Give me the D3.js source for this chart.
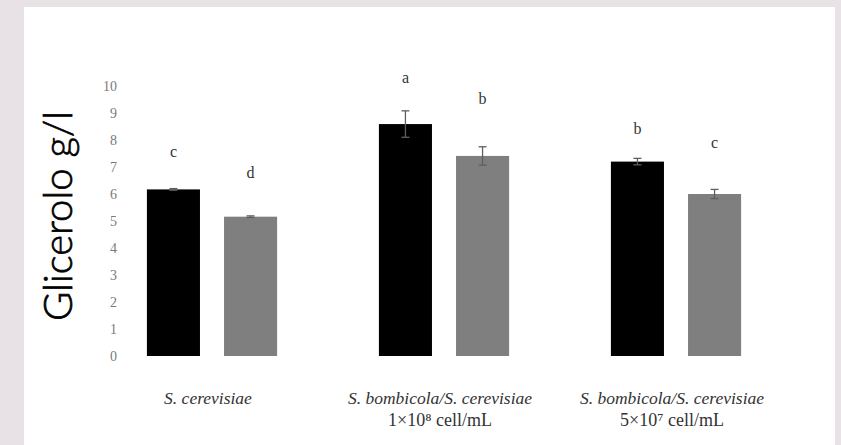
<!DOCTYPE html>
<html>
<head>
<meta charset="utf-8">
<script src="https://cdn.jsdelivr.net/npm/d3@7"></script>
<style>
  html, body { margin: 0; padding: 0; background: #e8e1e5; }
  svg { display: block; }
</style>
</head>
<body>
<svg id="chart" width="841" height="445"></svg>
<script>
// ---- data ----
const categories = ["g1", "g2", "g3"];
const categoryLine1 = ["S. cerevisiae", "S. bombicola/S. cerevisiae", "S. bombicola/S. cerevisiae"];
const categoryLine2 = ["", "1×10⁸ cell/mL", "5×10⁷ cell/mL"];
const seriesNames = ["black", "gray"];
const blackValues = [6.17, 8.59, 7.20];
const grayValues = [5.16, 7.41, 6.00];
const blackErrors = [0.03, 0.49, 0.12];
const grayErrors = [0.03, 0.34, 0.17];
const blackLetters = ["c", "a", "b"];
const grayLetters = ["d", "b", "c"];
const blackLetterY = [7.56, 10.33, 8.44];
const grayLetterY = [6.81, 9.52, 7.89];
const yTicks = [0, 1, 2, 3, 4, 5, 6, 7, 8, 9, 10];
const yTitle = "Glicerolo g/l";

const seriesColors = { black: "#000000", gray: "#7f7f7f" };

const svg = d3.select("#chart");

// white panel
svg.append("rect").attr("x", 24).attr("y", 7).attr("width", 811).attr("height", 445)
  .attr("fill", "#ffffff");

const y = d3.scaleLinear().domain([0, 10]).range([356, 86]);
const x0 = d3.scaleBand().domain(categories).range([96, 792]);
const x1 = d3.scaleBand().domain(seriesNames).range([0, x0.bandwidth()])
  .paddingInner(0.312).paddingOuter(0.66);

// y axis tick labels
const yAxis = d3.axisLeft(y).tickValues(yTicks).tickSize(0).tickPadding(0)
  .tickFormat(d3.format("d"));
const gy = svg.append("g").attr("transform", "translate(117,0)").call(yAxis);
gy.select(".domain").remove();
gy.selectAll("text")
  .attr("font-family", "'Liberation Serif', 'DejaVu Serif', serif")
  .attr("font-size", 14)
  .attr("fill", "#7a7a7a");

// y title
svg.append("text")
  .attr("transform", "translate(72,216) rotate(-90)")
  .attr("text-anchor", "middle")
  .attr("font-family", "Lato, 'Open Sans', sans-serif")
  .attr("font-weight", 300)
  .attr("font-size", 40)
  .attr("fill", "#000")
  .attr("stroke", "#000")
  .attr("stroke-width", 0.7)
  .text(yTitle);

// build rows
const rows = categories.map((c, i) => ({
  cat: c,
  items: [
    { s: "black", v: blackValues[i], e: blackErrors[i], l: blackLetters[i], ly: blackLetterY[i] },
    { s: "gray", v: grayValues[i], e: grayErrors[i], l: grayLetters[i], ly: grayLetterY[i] }
  ]
}));

const groups = svg.append("g").selectAll("g").data(rows).join("g")
  .attr("transform", d => `translate(${x0(d.cat)},0)`);

groups.selectAll("rect.bar").data(d => d.items).join("rect")
  .attr("class", "bar")
  .attr("x", d => x1(d.s))
  .attr("width", x1.bandwidth())
  .attr("y", d => y(d.v))
  .attr("height", d => y(0) - y(d.v))
  .attr("fill", d => seriesColors[d.s]);

// error bars
const eb = groups.selectAll("g.err").data(d => d.items).join("g").attr("class", "err")
  .attr("stroke", "#5f5f5f").attr("stroke-width", 1.3);
eb.append("line")
  .attr("x1", d => x1(d.s) + x1.bandwidth() / 2)
  .attr("x2", d => x1(d.s) + x1.bandwidth() / 2)
  .attr("y1", d => y(d.v + d.e)).attr("y2", d => y(d.v - d.e));
eb.append("line")
  .attr("x1", d => x1(d.s) + x1.bandwidth() / 2 - 4)
  .attr("x2", d => x1(d.s) + x1.bandwidth() / 2 + 4)
  .attr("y1", d => y(d.v + d.e)).attr("y2", d => y(d.v + d.e));
eb.append("line")
  .attr("x1", d => x1(d.s) + x1.bandwidth() / 2 - 4)
  .attr("x2", d => x1(d.s) + x1.bandwidth() / 2 + 4)
  .attr("y1", d => y(d.v - d.e)).attr("y2", d => y(d.v - d.e));

// significance letters
groups.selectAll("text.letter").data(d => d.items).join("text")
  .attr("class", "letter")
  .attr("x", d => x1(d.s) + x1.bandwidth() / 2)
  .attr("y", d => y(d.ly))
  .attr("text-anchor", "middle")
  .attr("dominant-baseline", "central")
  .attr("font-family", "'Liberation Serif', 'DejaVu Serif', serif")
  .attr("font-size", 16)
  .attr("fill", "#333")
  .text(d => d.l);

// category labels
const lab = svg.append("g").selectAll("g").data(categories).join("g")
  .attr("transform", d => `translate(${x0(d) + x0.bandwidth() / 2 - 4},0)`);
lab.append("text")
  .attr("y", 404)
  .attr("text-anchor", "middle")
  .attr("font-family", "'Liberation Serif', 'DejaVu Serif', serif")
  .attr("font-style", "italic")
  .attr("font-size", 17.5)
  .attr("fill", "#333")
  .text((d, i) => categoryLine1[i]);
lab.append("text")
  .attr("y", 426)
  .attr("text-anchor", "middle")
  .attr("font-family", "'Liberation Serif', 'DejaVu Serif', serif")
  .attr("font-size", 18)
  .attr("fill", "#333")
  .text((d, i) => categoryLine2[i]);
</script>
</body>
</html>
